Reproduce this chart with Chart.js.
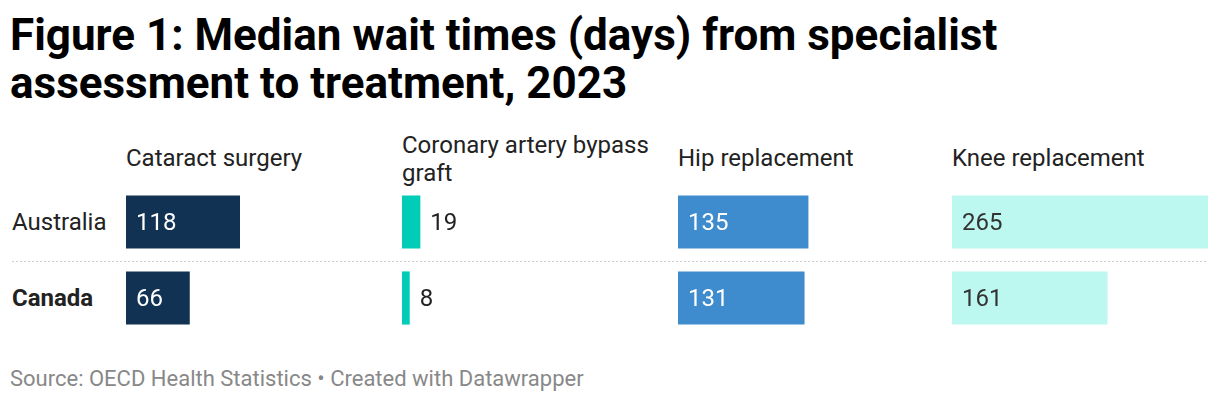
<!DOCTYPE html>
<html>
<head>
<meta charset="utf-8">
<script src="https://cdn.jsdelivr.net/npm/chart.js@4.4.1/dist/chart.umd.min.js"></script>
<style>
  html, body { margin: 0; padding: 0; background: #fff; }
  body { width: 1220px; height: 402px; position: relative; overflow: hidden; font-family: Roboto, "Noto Sans", sans-serif; color: #222; }
  #title { position: absolute; left: 10px; top: 11px; font-size: 44px; font-weight: 700; line-height: 48px; color: #000; margin: 0; white-space: nowrap; }
  .hdr { position: absolute; font-size: 24px; color: #222; width: 270px; white-space: nowrap; }
  .row { position: absolute; left: 12px; font-size: 24px; color: #222; }
  .panel { position: absolute; top: 184px; width: 256px; height: 152px; }
  #sep { position: absolute; left: 12px; width: 1196px; top: 261px; height: 1px;
         background: repeating-linear-gradient(to right, #cfcfcf 0 2px, transparent 2px 4px); }
  #foot { position: absolute; left: 10px; top: 366px; font-size: 22px; color: #888; white-space: nowrap; }
</style>
</head>
<body>
<div id="title">Figure 1: Median wait times (days) from specialist<br>assessment to treatment, 2023</div>
<div id="headers"></div>
<div class="row" style="top:208px;">Australia</div>
<div class="row" style="top:284px;font-weight:700;">Canada</div>
<div id="sep"></div>
<div id="panels"></div>
<div id="foot">Source: OECD Health Statistics • Created with Datawrapper</div>
<script>
const countries = ["Australia", "Canada"];
const procedures = ["Cataract surgery", "Coronary artery bypass graft", "Hip replacement", "Knee replacement"];
const headerLines = [["Cataract surgery"], ["Coronary artery bypass", "graft"], ["Hip replacement"], ["Knee replacement"]];
const cataract = [118, 66];
const bypass = [19, 8];
const hip = [135, 131];
const knee = [265, 161];
const colors = ["#113252", "#00ccb7", "#3e8bcd", "#bcf8ef"];
const labelColors = ["#ffffff", "#222222", "#ffffff", "#333333"];
const axisMax = 265;

const series = [cataract, bypass, hip, knee];
const lefts = [126, 402, 678, 952];

const valueLabels = {
  id: 'valueLabels',
  afterDatasetsDraw(chart, args, opts) {
    const ctx = chart.ctx;
    const meta = chart.getDatasetMeta(0);
    ctx.save();
    ctx.font = '24px Roboto, "Noto Sans", sans-serif';
    ctx.textBaseline = 'alphabetic';
    ctx.textAlign = 'left';
    meta.data.forEach((bar, i) => {
      const v = chart.data.datasets[0].data[i];
      const txt = String(v);
      const w = ctx.measureText(txt).width;
      const barW = bar.x - bar.base;
      if (barW > w + 20) {
        ctx.fillStyle = opts.inside;
        ctx.fillText(txt, bar.base + 10, bar.y + 8);
      } else {
        ctx.fillStyle = '#222';
        ctx.fillText(txt, bar.x + 10, bar.y + 8);
      }
    });
    ctx.restore();
  }
};

const hdrs = document.getElementById('headers');
const panels = document.getElementById('panels');
series.forEach((data, p) => {
  const h = document.createElement('div');
  h.className = 'hdr';
  h.style.left = lefts[p] + 'px';
  if (headerLines[p].length === 1) {
    h.style.top = '144px'; h.style.lineHeight = '29px';
  } else {
    h.style.top = '131px'; h.style.lineHeight = '28px';
  }
  h.innerHTML = headerLines[p].join('<br>');
  hdrs.appendChild(h);

  const div = document.createElement('div');
  div.className = 'panel';
  div.style.left = lefts[p] + 'px';
  const c = document.createElement('canvas');
  div.appendChild(c);
  panels.appendChild(div);

  new Chart(c, {
    type: 'bar',
    data: {
      labels: countries,
      datasets: [{
        label: procedures[p],
        data: data,
        backgroundColor: colors[p],
        borderWidth: 0,
        barPercentage: 0.7,
        categoryPercentage: 1.0
      }]
    },
    options: {
      indexAxis: 'y',
      responsive: true,
      maintainAspectRatio: false,
      animation: false,
      layout: { padding: 0 },
      plugins: {
        legend: { display: false },
        tooltip: { enabled: false },
        valueLabels: { inside: labelColors[p] }
      },
      scales: {
        x: { display: false, min: 0, max: axisMax },
        y: { display: false }
      }
    },
    plugins: [valueLabels]
  });
});
</script>
</body>
</html>
